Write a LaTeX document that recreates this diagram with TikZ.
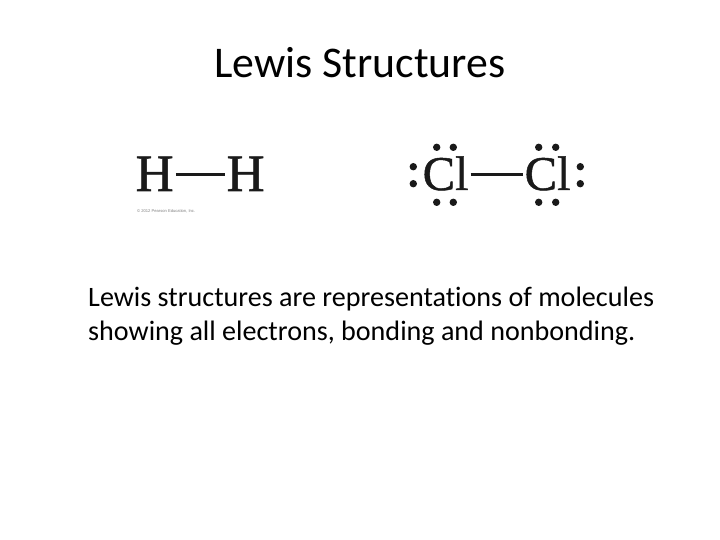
\documentclass[tikz,border=0pt]{standalone}
\usepackage{fontspec}
\setmainfont{Carlito}[Ligatures=NoCommon]
\newfontfamily\serifchem{Liberation Serif}[FakeBold=1.0]
\newfontfamily\smallsans{Liberation Sans}
\definecolor{ink}{HTML}{1A1A1A}
\tikzset{
  atom/.style={text=ink, inner sep=0pt, anchor=base west, text depth=0pt},
  hatom/.style={atom, text height=32pt, font=\serifchem\fontsize{52.5}{52.5}\selectfont},
  clatom/.style={atom, text height=30pt, font=\serifchem\fontsize{48.5}{48.5}\selectfont},
  bond/.style={draw=ink, line width=3pt, shorten >=2pt, shorten <=2pt},
  lonepair/.style={circle, fill=ink, draw=none, minimum size=7.4pt, inner sep=0pt},
  slidetext/.style={text=black, inner sep=0pt, anchor=base west},
}
\begin{document}
\begin{tikzpicture}[x=1pt,y=-1pt]
\useasboundingbox (0,0) rectangle (720,540);
\fill[white] (0,0) rectangle (720,540);
\node[slidetext, font=\fontsize{43.8}{43.8}\selectfont] (title) at (214,78) {Lewis Structures};

\node[hatom] (h1) at (135.5,191) {H};
\node[hatom] (h2) at (226.5,191) {H};
\draw[bond] (h1.east) -- (h2.west);
\node[slidetext, font=\smallsans\fontsize{4.1}{5}\selectfont, text=gray] (copy) at (137,213) {© 2012 Pearson Education, Inc.};

\node[clatom] (cl1) at (422.5,190) {Cl};
\node[clatom] (cl2) at (524.5,190) {Cl};
\draw[bond] (cl1.east) -- (cl2.west);

\foreach \n/\x/\y in {a/436.7/147.3,b/453.3/147.3,c/538.7/147.3,d/555.7/147.3,
                      e/436.7/202.3,f/453.3/202.3,g/538.7/202.3,h/555.7/202.3,
                      i/413.3/166.7,j/413.3/183.7,k/580.3/166.7,l/580.3/183.7}
  \node[lonepair] (dot\n) at (\x,\y) {};

\node[slidetext, font=\fontsize{28.1}{28.1}\selectfont] (body1) at (88,306) {Lewis structures are representations of molecules};
\node[slidetext, font=\fontsize{28.1}{28.1}\selectfont] (body2) at (88,340) {showing all electrons, bonding and nonbonding.};
\end{tikzpicture}
\end{document}
